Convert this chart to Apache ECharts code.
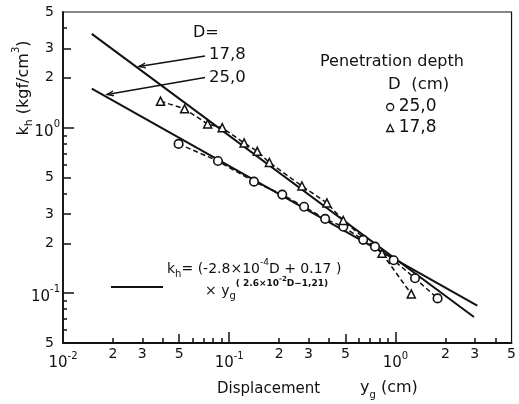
<!DOCTYPE html>
<html><head><meta charset="utf-8">
<script src="https://cdn.jsdelivr.net/npm/echarts@6/dist/echarts.min.js"></script>
<style>html,body{margin:0;padding:0;background:#fff}#c{width:519px;height:404px}</style>
</head><body><div id="c"></div>
<script>
// ---- data ----
const fit178X = [0.0149, 2.97];
const fit178Y = [3.69, 0.0718];
const fit250X = [0.0149, 3.11];
const fit250Y = [1.72, 0.084];

const d178X = [0.0386, 0.0539, 0.0742, 0.0908, 0.1229, 0.1476, 0.1745, 0.274, 0.387, 0.486, 0.831, 1.246];
const d178Y = [1.446, 1.30, 1.052, 1.00, 0.809, 0.720, 0.616, 0.444, 0.351, 0.275, 0.174, 0.099];
const d250X = [0.0496, 0.0856, 0.141, 0.2086, 0.2823, 0.378, 0.486, 0.640, 0.754, 0.976, 1.313, 1.794];
const d250Y = [0.798, 0.629, 0.472, 0.394, 0.333, 0.281, 0.252, 0.210, 0.191, 0.158, 0.123, 0.093];

const xDigitValues = [0.02, 0.03, 0.05, 0.2, 0.3, 0.5, 2, 3, 5];
const xDigitLabels = ['2', '3', '5', '2', '3', '5', '2', '3', '5'];
const xDecadeValues = [0.01, 0.1, 1];
const xDecadeExps = ['-2', '-1', '0'];
const xMinorTicks = [0.02, 0.03, 0.04, 0.06, 0.07, 0.08, 0.09, 0.2, 0.3, 0.4, 0.6, 0.7, 0.8, 0.9, 2, 3, 4];
const xMidTicks = [0.05, 0.5];
const xMajorTicks = [0.1, 1];

const yDigitValues = [0.05, 0.2, 0.3, 0.5, 2, 3, 5];
const yDigitLabels = ['5', '2', '3', '5', '2', '3', '5'];
const yDecadeValues = [0.1, 1];
const yDecadeExps = ['-1', '0'];
const yMinorTicks = [0.06, 0.07, 0.08, 0.09, 0.4, 0.6, 0.7, 0.8, 0.9, 4];
const yMidTicks = [0.2, 0.3, 0.5, 2, 3];
const yMajorTicks = [0.1, 1];

const seriesNames = ['25,0', '17,8'];

// ---- helpers ----
const FONT = 'DejaVu Sans';
const INK = '#111';
function near(a, b) { return Math.abs(a - b) <= 1e-4 * Math.max(Math.abs(a), Math.abs(b)); }
function pick(values, labels, v) {
  for (let i = 0; i < values.length; i++) if (near(values[i], v)) return labels[i];
  return '';
}
function pairs(xs, ys) { return xs.map((x, i) => [x, ys[i]]); }

const decadeRich = {
  b: { fontFamily: FONT, fontSize: 15, color: INK, lineHeight: 17, padding: [5, 0, 0, 0], verticalAlign: 'top' },
  s: { fontFamily: FONT, fontSize: 10, color: INK, lineHeight: 11, verticalAlign: 'top' }
};
const digitRich = { n: { fontFamily: FONT, fontSize: 14, color: INK, lineHeight: 16 } };

function xAxisDef(ticks, len, labelCfg, showLine) {
  return {
    type: 'log', logBase: 10, min: 0.01, max: 5, gridIndex: 0, position: 'bottom',
    axisLine: { show: !!showLine, lineStyle: { color: INK, width: 1.8 } },
    axisTick: { show: true, inside: true, length: len, customValues: ticks, lineStyle: { color: INK, width: 1.5 } },
    axisLabel: labelCfg || { show: false },
    splitLine: { show: false }, minorTick: { show: false }, minorSplitLine: { show: false }
  };
}
function yAxisDef(ticks, len, labelCfg, showLine) {
  return {
    type: 'log', logBase: 10, min: 0.05, max: 5, gridIndex: 0, position: 'left',
    axisLine: { show: !!showLine, lineStyle: { color: INK, width: 1.8 } },
    axisTick: { show: true, inside: true, length: len, customValues: ticks, lineStyle: { color: INK, width: 1.5 } },
    axisLabel: labelCfg || { show: false },
    splitLine: { show: false }, minorTick: { show: false }, minorSplitLine: { show: false }
  };
}

const chart = echarts.init(document.getElementById('c'), null, { renderer: 'canvas', width: 519, height: 404 });

const R = {
  t: { fontFamily: FONT, fontSize: 16, color: INK, lineHeight: 18, padding: [5, 0, 0, 0], verticalAlign: 'top' },
  sup: { fontFamily: FONT, fontSize: 10, color: INK, lineHeight: 11, verticalAlign: 'top' },
  sub: { fontFamily: FONT, fontSize: 11, color: INK, lineHeight: 12, padding: [13, 0, 0, 0], verticalAlign: 'top' }
};
const F1 = {
  t: { fontFamily: FONT, fontSize: 14, color: INK, lineHeight: 16, padding: [5, 0, 0, 0], verticalAlign: 'top' },
  sup: { fontFamily: FONT, fontSize: 9, color: INK, lineHeight: 10, padding: [1, 0, 0, 0], verticalAlign: 'top' },
  sub: { fontFamily: FONT, fontSize: 10, color: INK, lineHeight: 11, padding: [12, 0, 0, 0], verticalAlign: 'top' }
};
const F2 = {
  t: { fontFamily: FONT, fontSize: 14, color: INK, lineHeight: 16, padding: [8, 0, 0, 0], verticalAlign: 'top' },
  sub: { fontFamily: FONT, fontSize: 10, color: INK, lineHeight: 11, padding: [15, 0, 0, 0], verticalAlign: 'top' },
  p: { fontFamily: FONT, fontSize: 9, fontWeight: 'bold', color: INK, lineHeight: 10, padding: [3, 0, 0, 0], verticalAlign: 'top' },
  pp: { fontFamily: FONT, fontSize: 7, fontWeight: 'bold', color: INK, lineHeight: 8, padding: [0, 0, 0, 0], verticalAlign: 'top' }
};

function arrowGraphic(x1, y1, x2, y2) {
  const a = Math.atan2(y2 - y1, x2 - x1);
  const L = 7, w = 0.35;
  const p1 = [x2 - L * Math.cos(a - w), y2 - L * Math.sin(a - w)];
  const p2 = [x2 - L * Math.cos(a + w), y2 - L * Math.sin(a + w)];
  return [
    { type: 'line', shape: { x1, y1, x2, y2 }, style: { stroke: INK, lineWidth: 1.3 } },
    { type: 'polyline', shape: { points: [p1, [x2, y2], p2] }, style: { stroke: INK, lineWidth: 1.3, fill: null } }
  ];
}
function plain(x, y, text, size) {
  return { type: 'text', x, y, style: { text, font: size + 'px "' + FONT + '"', fill: INK, align: 'left', verticalAlign: 'middle' } };
}
function richTxt(x, y, text, rich) {
  return { type: 'text', x, y, style: { text, rich, align: 'left', verticalAlign: 'middle', fill: INK } };
}

const option = {
  animation: false,
  backgroundColor: '#fff',
  grid: { left: 63, right: 5, top: 12, bottom: 61, show: true, borderColor: INK, borderWidth: 1.2, backgroundColor: 'transparent' },
  xAxis: [
    xAxisDef(xMinorTicks, 5, {
      show: true, customValues: xDigitValues, margin: 3, rich: digitRich,
      formatter: v => '{n|' + pick(xDigitValues, xDigitLabels, v) + '}'
    }, true),
    xAxisDef(xMidTicks, 9),
    xAxisDef(xMajorTicks, 11, {
      show: true, customValues: xDecadeValues, margin: 8, rich: decadeRich,
      formatter: v => '{b|10}{s|' + pick(xDecadeValues, xDecadeExps, v) + '}'
    })
  ],
  yAxis: [
    yAxisDef(yMinorTicks, 4, {
      show: true, customValues: yDigitValues, margin: 9, rich: digitRich,
      formatter: v => '{n|' + pick(yDigitValues, yDigitLabels, v) + '}'
    }, true),
    yAxisDef(yMidTicks, 8),
    yAxisDef(yMajorTicks, 11, {
      show: true, customValues: yDecadeValues, margin: 3, rich: decadeRich,
      formatter: v => '{b|10}{s|' + pick(yDecadeValues, yDecadeExps, v) + '}'
    })
  ],
  legend: {
    orient: 'vertical', left: 386, top: 98, padding: 0, itemWidth: 7, itemHeight: 7, itemGap: 3,
    data: [
      { name: seriesNames[0], icon: 'circle' },
      { name: seriesNames[1], icon: 'triangle' }
    ],
    itemStyle: { color: '#fff', borderColor: INK, borderWidth: 1.3 },
    textStyle: { fontFamily: FONT, fontSize: 17, color: INK, lineHeight: 18 },
    selectedMode: false
  },
  series: [
    { type: 'line', name: 'fit 17,8', data: pairs(fit178X, fit178Y), showSymbol: false, symbol: 'none',
      lineStyle: { color: INK, width: 2 }, z: 2, silent: true },
    { type: 'line', name: 'fit 25,0', data: pairs(fit250X, fit250Y), showSymbol: false, symbol: 'none',
      lineStyle: { color: INK, width: 2 }, z: 2, silent: true },
    { type: 'line', name: seriesNames[0], data: pairs(d250X, d250Y), symbol: 'circle', symbolSize: 8.5,
      itemStyle: { color: '#fff', borderColor: INK, borderWidth: 1.6 },
      lineStyle: { color: INK, width: 1.5, type: [5, 3] }, z: 3 },
    { type: 'line', name: seriesNames[1], data: pairs(d178X, d178Y), symbol: 'triangle', symbolSize: 8,
      itemStyle: { color: '#fff', borderColor: INK, borderWidth: 1.5 },
      lineStyle: { color: INK, width: 1.5, type: [5, 3] }, z: 3 }
  ],
  graphic: [
    { type: 'text', x: 20, y: 88, rotation: Math.PI / 2,
      style: { text: '{t|k}{sub|h}{t| (kgf/cm}{sup|3}{t|)}', rich: R, align: 'center', verticalAlign: 'middle', fill: INK } },
    richTxt(217, 389, '{a|Displacement}', { a: { fontFamily: FONT, fontSize: 15, color: INK } }),
    richTxt(360, 389, '{t|y}{sub|g}{t| (cm)}', {
      t: { fontFamily: FONT, fontSize: 16, color: INK, lineHeight: 18, verticalAlign: 'top' },
      sub: { fontFamily: FONT, fontSize: 10, color: INK, lineHeight: 11, padding: [10, 0, 0, 0], verticalAlign: 'top' }
    }),
    plain(320, 62, 'Penetration depth', 16),
    plain(388, 85, 'D  (cm)', 16.5),
    plain(193, 33, 'D=', 16),
    plain(209, 55, '17,8', 16.5),
    plain(209, 78, '25,0', 16.5),
    ...arrowGraphic(205, 56, 139, 66.5),
    ...arrowGraphic(205, 77.5, 107, 94.5),
    { type: 'line', shape: { x1: 111, y1: 287, x2: 163, y2: 287 }, style: { stroke: INK, lineWidth: 2 } },
    richTxt(167, 265, '{t|k}{sub|h}{t|= (-2.8×10}{sup|-4}{t|D + 0.17 )}', F1),
    richTxt(205, 284, '{t|× y}{sub|g}{p|( 2.6×10}{pp|-2}{p|D−1,21)}', F2)
  ]
};
chart.setOption(option);
</script>
</body></html>
